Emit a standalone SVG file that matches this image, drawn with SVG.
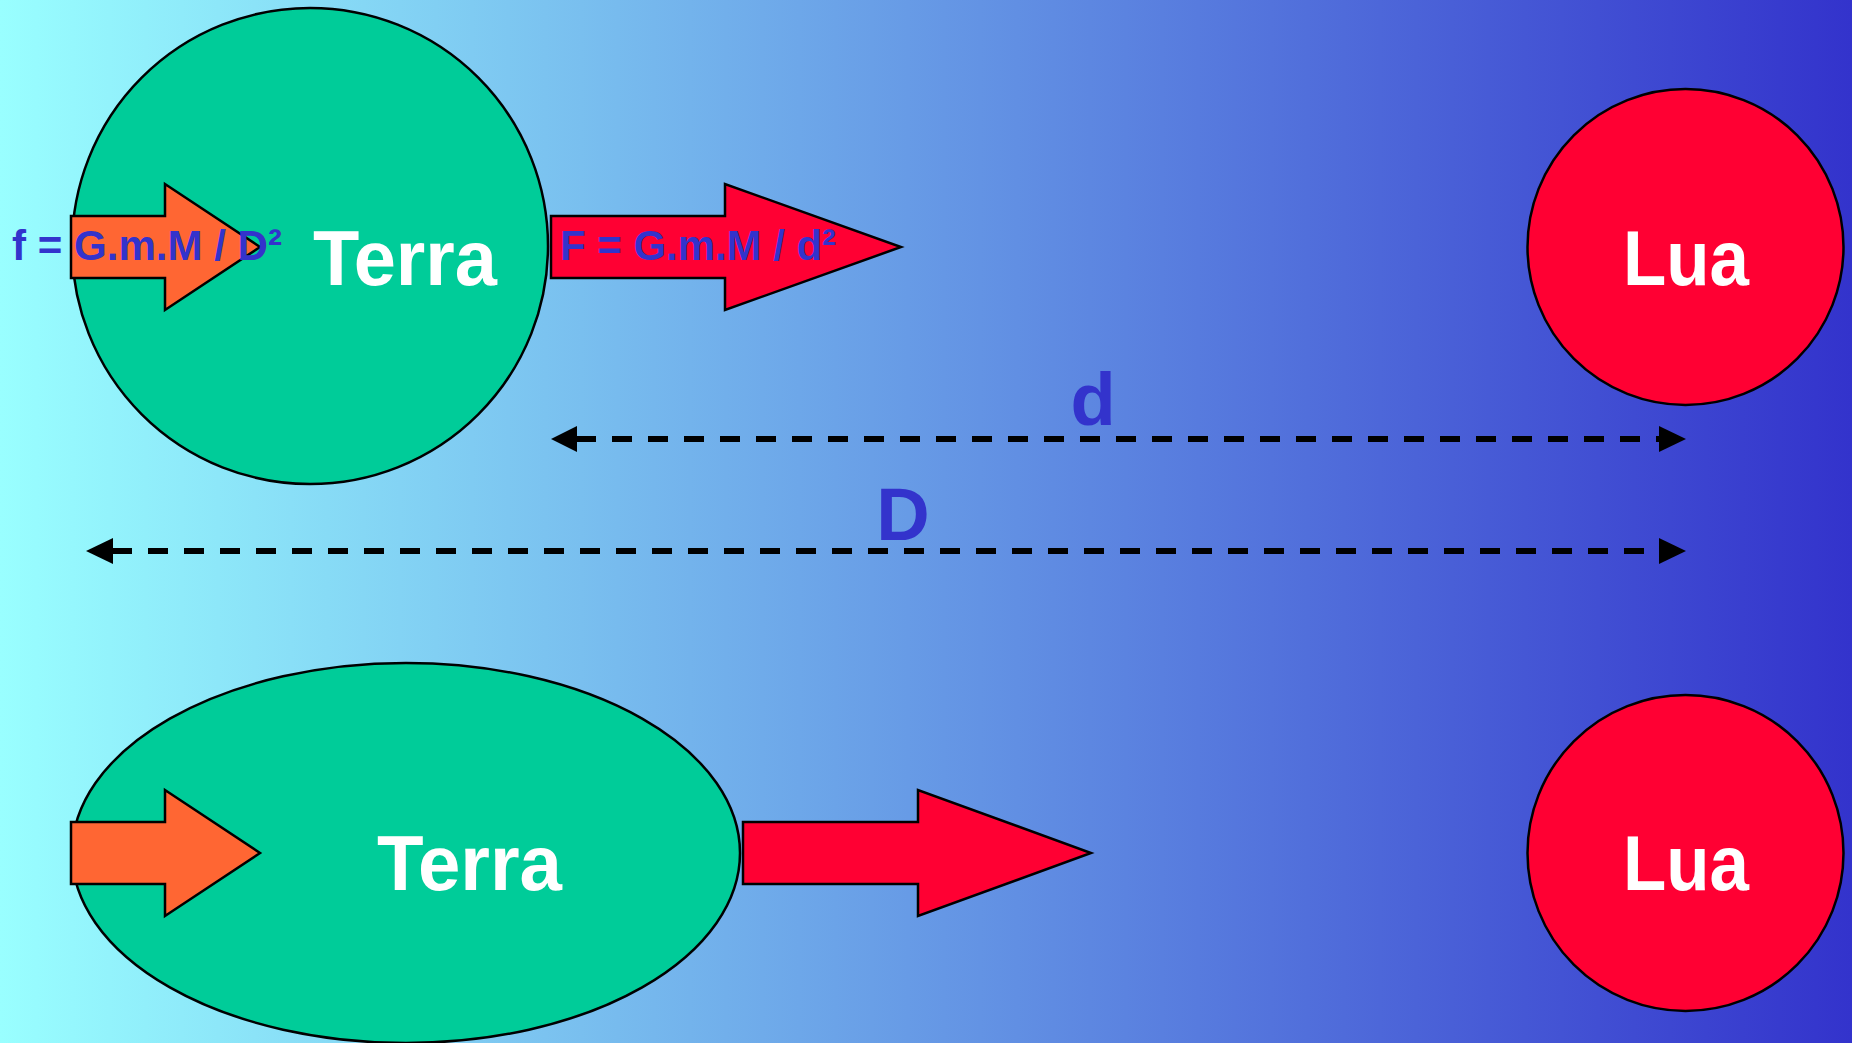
<svg xmlns="http://www.w3.org/2000/svg" width="1852" height="1043" viewBox="0 0 1852 1043">
<defs>
<linearGradient id="bg" x1="0" y1="0" x2="1" y2="0">
<stop offset="0" stop-color="#99FFFF"/>
<stop offset="1" stop-color="#3333CC"/>
</linearGradient>
<style>
.shape{stroke:#000;stroke-width:2.5}
.earth{fill:#00CC99}
.moon{fill:#FF0033}
.pull{fill:#FF6633}
.push{fill:#FF0033}
.lbl{font-family:"Liberation Sans",Arial,sans-serif;font-weight:bold;fill:#fff;font-size:78px}
.frm{font-family:"Liberation Sans",Arial,sans-serif;font-weight:bold;fill:#3333CC;font-size:43px}
.dim{font-family:"Liberation Sans",Arial,sans-serif;font-weight:bold;fill:#3333CC;font-size:74px;text-anchor:middle}
.dash{stroke:#000;stroke-width:6;stroke-dasharray:20 16;fill:none}
.head{fill:#000}
</style>
</defs>
<rect width="1852" height="1043" fill="url(#bg)"/>

<g id="terra-top">
<circle class="shape earth" cx="310" cy="246" r="238"/>
<text class="lbl" x="313" y="285" textLength="184" lengthAdjust="spacingAndGlyphs">Terra</text>
</g>
<g id="arrow-f-top">
<path class="shape pull" d="M71,216 H165 V184 L260,247 L165,310 V278 H71 Z"/>
<text class="frm" x="12" y="260" textLength="270" lengthAdjust="spacingAndGlyphs">f = G.m.M / D²</text>
</g>
<g id="arrow-F-top">
<path class="shape push" d="M551,216 H725 V184 L901,247 L725,310 V278 H551 Z"/>
<text class="frm" x="560" y="260" textLength="276" lengthAdjust="spacingAndGlyphs">F = G.m.M / d²</text>
</g>
<g id="lua-top">
<circle class="shape moon" cx="1685.5" cy="247" r="158"/>
<text class="lbl" x="1623" y="285" textLength="126" lengthAdjust="spacingAndGlyphs">Lua</text>
</g>

<g id="connectors">
<line class="dash" x1="576" y1="439" x2="1660" y2="439"/>
<path class="head" d="M551,439 L577,426 L577,452 Z"/>
<path class="head" d="M1686,439 L1659,426 L1659,452 Z"/>
<line class="dash" x1="112" y1="551" x2="1660" y2="551"/>
<path class="head" d="M86,551 L113,538 L113,564 Z"/>
<path class="head" d="M1686,551 L1659,538 L1659,564 Z"/>
</g>
<text class="dim" x="1093" y="425">d</text>
<text class="dim" x="903" y="540">D</text>

<g id="terra-bottom">
<ellipse class="shape earth" cx="406" cy="853" rx="334" ry="190"/>
<text class="lbl" x="377" y="890" textLength="185" lengthAdjust="spacingAndGlyphs">Terra</text>
</g>
<g id="arrow-f-bottom">
<path class="shape pull" d="M71,822 H165 V790 L260,853 L165,916 V884 H71 Z"/>
</g>
<g id="arrow-F-bottom">
<path class="shape push" d="M743,822 H918 V790 L1091,853 L918,916 V884 H743 Z"/>
</g>
<g id="lua-bottom">
<circle class="shape moon" cx="1685.5" cy="853" r="158"/>
<text class="lbl" x="1623" y="890" textLength="126" lengthAdjust="spacingAndGlyphs">Lua</text>
</g>
</svg>
